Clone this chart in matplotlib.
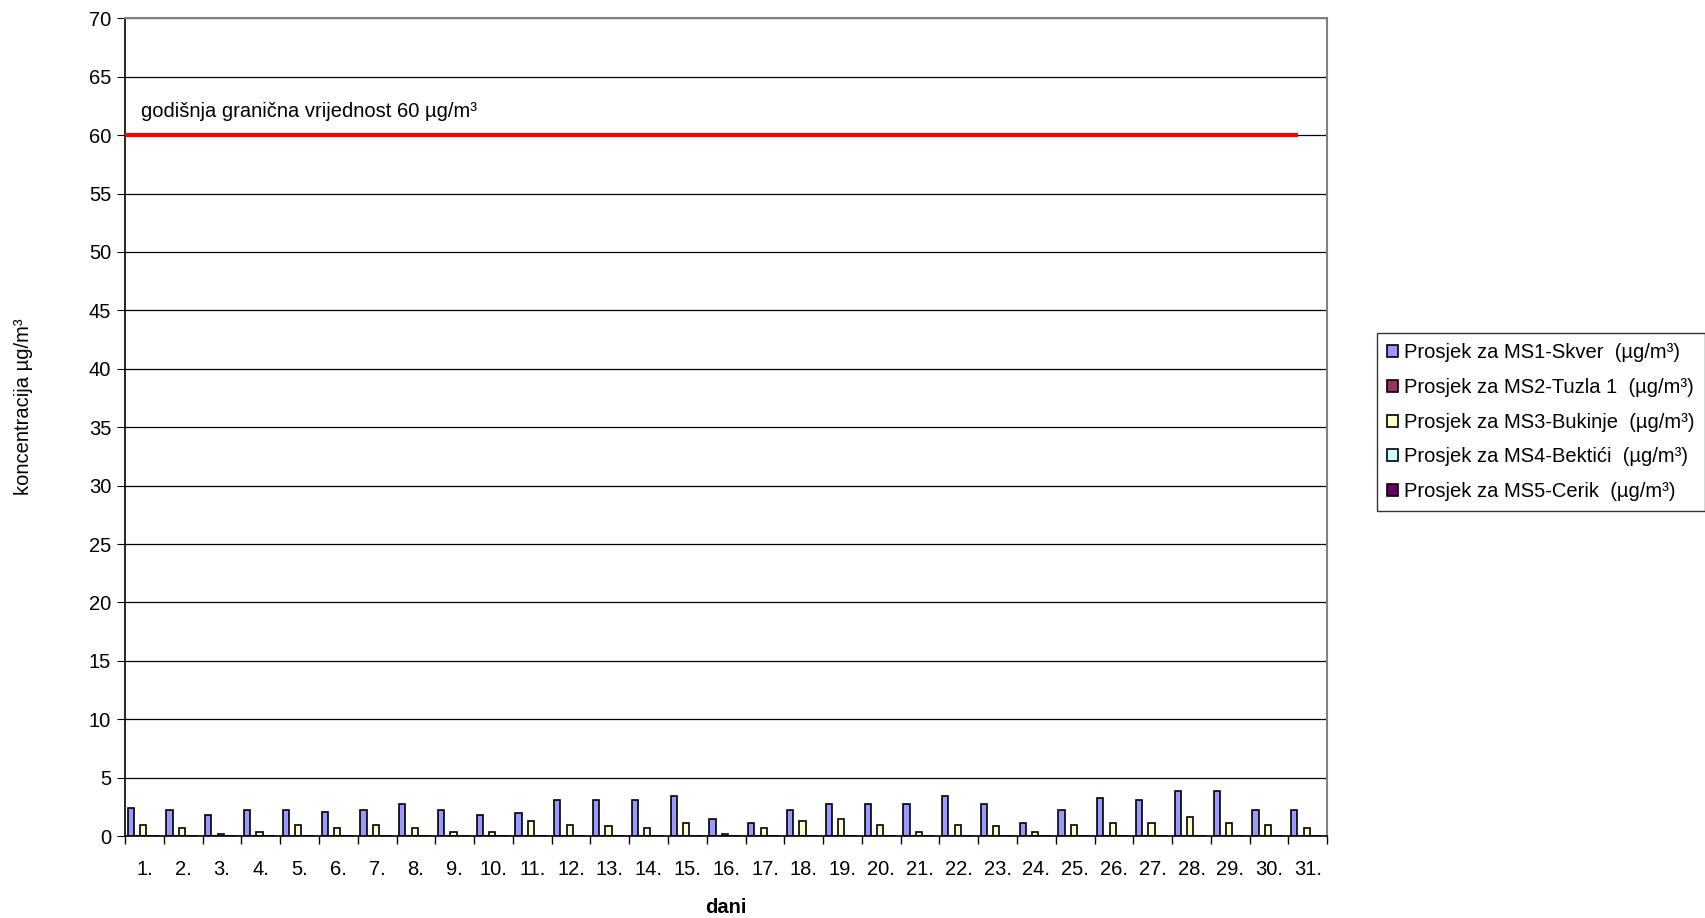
import numpy as np
import matplotlib
matplotlib.use('Agg')
import matplotlib.pyplot as plt

plt.rcParams['font.family'] = ['Liberation Sans', 'DejaVu Sans']

# dani u mjesecu
dani = [f'{d}.' for d in range(1, 32)]

# prosjeci po mjernim stanicama (µg/m³)
ms1_skver = [2.42, 2.25, 1.77, 2.25, 2.25, 2.08, 2.25, 2.76, 2.25, 1.77,
             1.94, 3.08, 3.08, 3.08, 3.42, 1.42, 1.14, 2.25, 2.76, 2.76,
             2.76, 3.42, 2.76, 1.14, 2.25, 3.25, 3.11, 3.85, 3.85, 2.25, 2.25]
ms2_tuzla = [0.0] * 31
ms3_bukinje = [0.94, 0.66, 0.20, 0.37, 0.97, 0.66, 0.94, 0.66, 0.34, 0.34,
               1.28, 0.94, 0.83, 0.66, 1.11, 0.20, 0.66, 1.28, 1.42, 0.97,
               0.34, 0.97, 0.83, 0.34, 0.97, 1.11, 1.11, 1.60, 1.11, 0.97, 0.66]
ms4_bektici = [0.0] * 31
ms5_cerik = [0.0] * 31

granicna = 60

serije = [
    ('Prosjek za MS1-Skver  (µg/m³)', ms1_skver, '#9999FF'),
    ('Prosjek za MS2-Tuzla 1  (µg/m³)', ms2_tuzla, '#993366'),
    ('Prosjek za MS3-Bukinje  (µg/m³)', ms3_bukinje, '#FFFFCC'),
    ('Prosjek za MS4-Bektići  (µg/m³)', ms4_bektici, '#CCFFFF'),
    ('Prosjek za MS5-Cerik  (µg/m³)', ms5_cerik, '#660066'),
]

fs = 14.5

fig = plt.figure(figsize=(17.06, 9.18), dpi=100)
ax = fig.add_axes([0.0733, 0.0893, 0.7047, 0.8907])

x = np.arange(len(dani))
w = 0.16
for i, (naziv, vrijednosti, boja) in enumerate(serije):
    ax.bar(x + (i - 2.2) * w, vrijednosti, width=w, color=boja,
           edgecolor='black', linewidth=1.2, label=naziv)

ax.hlines(granicna, -0.5, 29.75, color='red', linewidth=3, zorder=3)
ax.text(-0.1, granicna + 1.2, 'godišnja granična vrijednost 60 µg/m³',
        fontsize=fs, va='bottom', ha='left')

ax.set_xlim(-0.5, 30.5)
ax.set_ylim(0, 70)
ax.set_yticks(range(0, 71, 5))
ax.yaxis.grid(True, color='black', linewidth=0.9)
ax.set_axisbelow(True)

ax.set_xticks(x)
ax.set_xticklabels(dani)
ax.set_xticks(np.arange(-0.5, 31, 1), minor=True)
ax.tick_params(axis='x', which='major', length=0, pad=17, labelsize=fs)
ax.tick_params(axis='x', which='minor', length=6, width=1)
ax.tick_params(axis='y', length=6, labelsize=fs, pad=4)

for s in ['top', 'right']:
    ax.spines[s].set_color('#808080')
    ax.spines[s].set_linewidth(1.5)
for s in ['left', 'bottom']:
    ax.spines[s].set_color('black')
    ax.spines[s].set_linewidth(1.2)

ax.set_xlabel('dani', fontsize=fs, fontweight='bold', labelpad=14)
fig.text(0.014, 0.461, 'koncentracija µg/m³', rotation=90, fontsize=fs,
         va='bottom', ha='center')

leg = ax.legend(loc='center left', bbox_to_anchor=(1.0415, 0.506), fontsize=fs,
                frameon=True, fancybox=False, edgecolor='black',
                handlelength=0.55, handleheight=0.55, handletextpad=0.3,
                labelspacing=0.78, borderpad=0.5, borderaxespad=0)
leg.get_frame().set_linewidth(1.0)

fig.savefig('out.png', dpi=100)
